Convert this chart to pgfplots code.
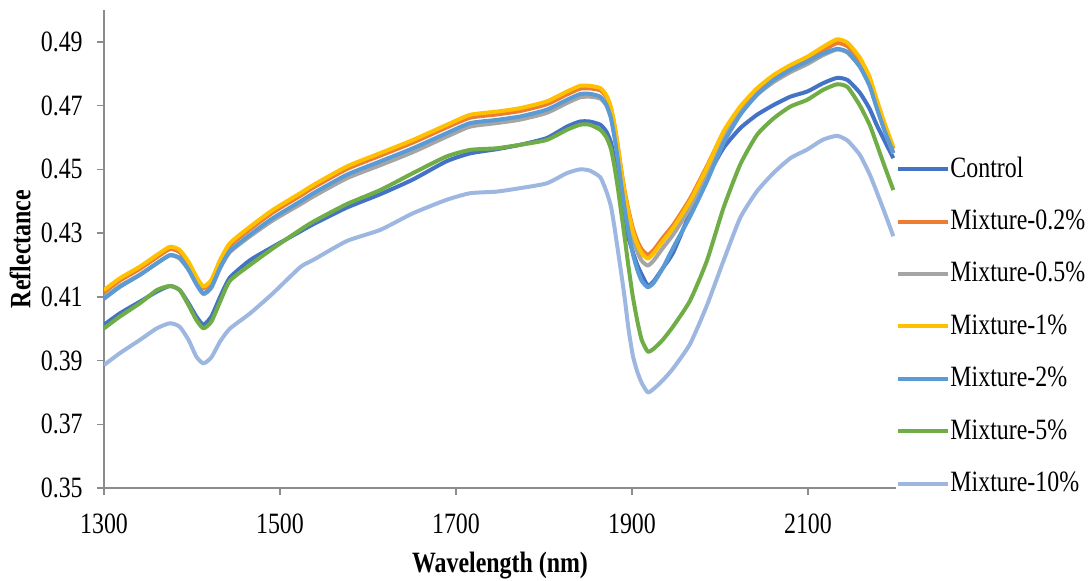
\documentclass[border=0pt]{standalone}
\usepackage{fontspec}
\setmainfont{Liberation Serif}[FakeStretch=0.81]
\usepackage{pgfplots}
\usepackage{pgfplotstable}
\pgfplotsset{compat=1.18}

\definecolor{axisgray}{HTML}{8C8C8C}
\definecolor{cCtrl}{HTML}{4472C4}
\definecolor{cTwo}{HTML}{ED7D31}
\definecolor{cFive}{HTML}{A5A5A5}
\definecolor{cOne}{HTML}{FFC000}
\definecolor{cM2}{HTML}{5B9BD5}
\definecolor{cM5}{HTML}{70AD47}
\definecolor{cM10}{HTML}{9DB7E0}

% wavelength (nm) and reflectance of each sample
\pgfplotstableread{
wl   ctrl  m02   m05   m1    m2    m5    m10
1300 .4012 .4114 .4098 .4121 .4094 .4001 .3886
1318 .4048 .4151 .4134 .4158 .4131 .4038 .3923
1341 .4085 .4188 .4170 .4195 .4169 .4080 .3965
1360 .4116 .4224 .4205 .4231 .4205 .4121 .4001
1375 .4134 .4250 .4230 .4257 .4231 .4134 .4017
1386 .4121 .4240 .4220 .4247 .4222 .4121 .4006
1396 .4080 .4203 .4185 .4210 .4186 .4074 .3965
1405 .4038 .4157 .4140 .4163 .4140 .4027 .3912
1413 .4012 .4127 .4108 .4132 .4111 .4001 .3891
1422 .4038 .4147 .4128 .4153 .4131 .4022 .3910
1432 .4100 .4209 .4190 .4216 .4192 .4085 .3960
1443 .4160 .4260 .4240 .4268 .4243 .4150 .4000
1466 .4215 .4312 .4290 .4320 .4295 .4200 .4048
1492 .4257 .4365 .4340 .4373 .4347 .4252 .4111
1523 .4305 .4417 .4390 .4425 .4399 .4310 .4193
1538 .4328 .4443 .4415 .4451 .4425 .4336 .4216
1576 .4380 .4501 .4472 .4509 .4483 .4391 .4275
1614 .4422 .4543 .4513 .4551 .4525 .4435 .4310
1651 .4468 .4584 .4554 .4592 .4566 .4488 .4362
1689 .4525 .4631 .4602 .4639 .4613 .4540 .4404
1716 .4550 .4662 .4634 .4671 .4645 .4561 .4425
1746 .4563 .4672 .4645 .4681 .4655 .4566 .4430
1773 .4577 .4683 .4656 .4692 .4666 .4577 .4441
1803 .4598 .4704 .4677 .4713 .4687 .4592 .4456
1826 .4634 .4735 .4708 .4744 .4718 .4624 .4488
1841 .4650 .4753 .4726 .4762 .4736 .4640 .4500
1852 .4650 .4754 .4728 .4762 .4737 .4640 .4496
1864 .4640 .4748 .4722 .4755 .4728 .4624 .4475
1871 .4618 .4727 .4700 .4732 .4702 .4600 .4430
1876 .4585 .4692 .4663 .4695 .4662 .4565 .4385
1880 .4530 .4640 .4608 .4640 .4603 .4510 .4320
1884 .4460 .4572 .4540 .4570 .4530 .4440 .4245
1888 .4395 .4495 .4463 .4490 .4448 .4360 .4170
1892 .4335 .4427 .4395 .4420 .4370 .4280 .4090
1896 .4285 .4373 .4340 .4365 .4305 .4195 .4000
1901 .4240 .4315 .4282 .4305 .4235 .4100 .3915
1906 .4200 .4276 .4242 .4265 .4185 .4025 .3865
1911 .4170 .4249 .4213 .4237 .4150 .3965 .3830
1918 .4135 .4232 .4198 .4220 .4130 .3928 .3800
1925 .4150 .4248 .4215 .4238 .4145 .3938 .3812
1935 .4190 .4285 .4253 .4275 .4190 .3965 .3838
1947 .4240 .4326 .4296 .4317 .4255 .4008 .3876
1966 .4363 .4408 .4380 .4400 .4352 .4088 .3952
1985 .4473 .4509 .4485 .4504 .4461 .4212 .4072
2004 .4567 .4615 .4598 .4619 .4582 .4379 .4213
2023 .4629 .4688 .4676 .4697 .4671 .4515 .4348
2042 .4671 .4744 .4734 .4754 .4734 .4608 .4431
2061 .4702 .4786 .4774 .4796 .4780 .4660 .4489
2080 .4728 .4817 .4805 .4827 .4812 .4697 .4535
2099 .4744 .4843 .4830 .4853 .4838 .4718 .4562
2117 .4770 .4873 .4858 .4884 .4863 .4749 .4593
2133 .4787 .4896 .4876 .4908 .4878 .4767 .4605
2145 .4780 .4886 .4866 .4897 .4868 .4758 .4590
2159 .4740 .4840 .4822 .4850 .4822 .4700 .4545
2170 .4690 .4781 .4764 .4790 .4762 .4640 .4485
2178 .4640 .4712 .4696 .4720 .4694 .4580 .4430
2187 .4590 .4638 .4622 .4645 .4622 .4510 .4365
2197 .4535 .4565 .4550 .4570 .4552 .4435 .4290
}\spectra

\begin{document}
\begin{tikzpicture}
\useasboundingbox (0,0) rectangle (436.8pt,232.4pt);
\begin{axis}[
    at={(41.6pt,37.2pt)}, anchor=south west,
    scale only axis, width=316.8pt, height=191.2pt,
    font=\fontsize{11.8}{14}\selectfont,
    xmin=1300, xmax=2200, ymin=0.35, ymax=0.50,
    axis x line*=bottom, axis y line*=left,
    axis line style={draw=axisgray, line width=0.6pt},
    tick align=outside, major tick length=3pt,
    tick style={axisgray, line width=0.6pt},
    xtick={1300,1500,1700,1900,2100},
    ytick={0.35,0.37,0.39,0.41,0.43,0.45,0.47,0.49},
    /pgf/number format/assume math mode=true,
    xticklabel style={yshift=-4pt, /pgf/number format/set thousands separator={}},
    yticklabel style={xshift=-2pt, /pgf/number format/.cd, fixed, fixed zerofill, precision=2},
    xlabel={\textbf{Wavelength (nm)}},
    ylabel={\textbf{Reflectance}},
    xlabel style={at={(axis description cs:0.5,0)}, anchor=base, yshift=-34pt},
    ylabel style={at={(axis description cs:-0.106,0.5)}, anchor=center, rotate=0},
    every axis plot/.append style={line width=1.6pt, line join=round, smooth, tension=0.35},
    legend style={at={(1,0.694)}, anchor=north west, draw=none, fill=none,
        row sep=11.6pt, column sep=0pt, inner sep=0pt,
        nodes={inner sep=0pt}},
    legend cell align=left,
    legend image code/.code={\draw[#1, sharp plot] (0pt,0pt) -- (20pt,0pt);},
]
\addplot[cCtrl] table[x=wl, y=ctrl] {\spectra};
\addlegendentry{Control}
\addplot[cTwo] table[x=wl, y=m02] {\spectra};
\addlegendentry{Mixture-0.2\%}
\addplot[cFive] table[x=wl, y=m05] {\spectra};
\addlegendentry{Mixture-0.5\%}
\addplot[cOne] table[x=wl, y=m1] {\spectra};
\addlegendentry{Mixture-1\%}
\addplot[cM2] table[x=wl, y=m2] {\spectra};
\addlegendentry{Mixture-2\%}
\addplot[cM5] table[x=wl, y=m5] {\spectra};
\addlegendentry{Mixture-5\%}
\addplot[cM10] table[x=wl, y=m10] {\spectra};
\addlegendentry{Mixture-10\%}
\end{axis}
\end{tikzpicture}
\end{document}
